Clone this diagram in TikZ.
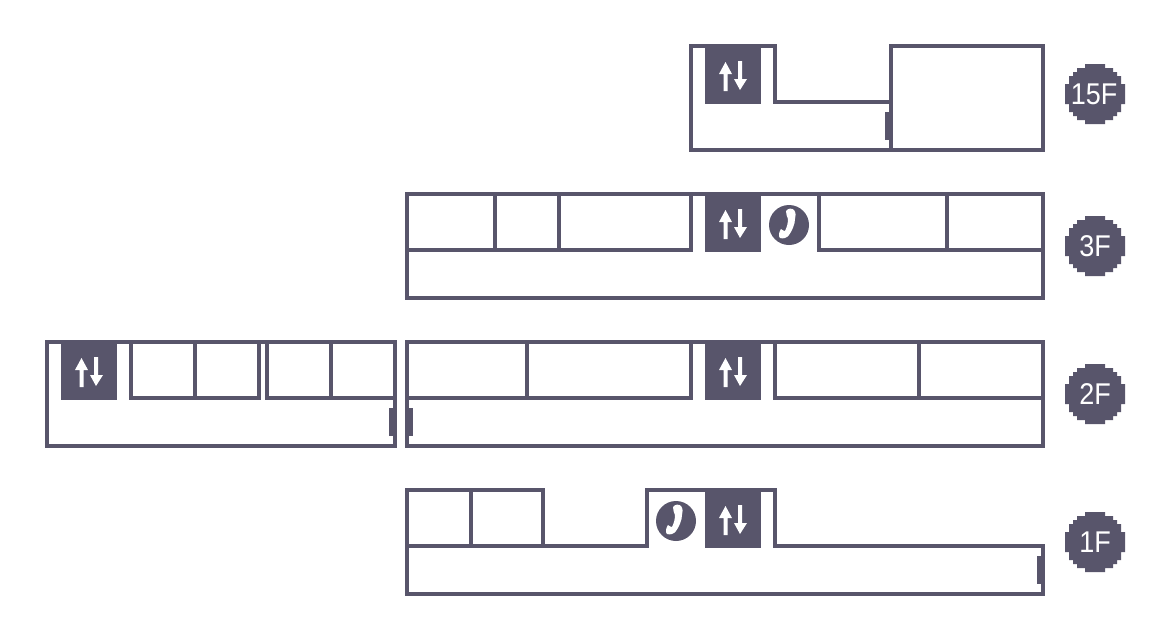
\documentclass[tikz,border=0pt]{standalone}
\usepackage{fontspec}
\setmainfont{Liberation Sans}
\newfontfamily\badgefont[FakeStretch=0.9]{Liberation Sans}
\definecolor{plan}{RGB}{88,85,107}
\tikzset{
  wall/.style={draw=plan,line width=4pt,miter limit=10,line cap=butt},
  badgetext/.style={text=white,font=\badgefont\fontsize{30}{30}\selectfont,inner sep=0pt,anchor=center},
  lift/.pic={
    \fill[plan] (0,0) rectangle (56,60);
    \fill[white] (18.5,47) -- (18.5,30) -- (14,30) -- (20.5,18) -- (27,30) -- (22.5,30) -- (22.5,47) -- cycle;
    \fill[white] (33,17) -- (37,17) -- (37,35) -- (42,35) -- (35,46) -- (29,35) -- (33,35) -- cycle;
  },
  phone/.pic={
    \fill[plan] (0,0) circle[radius=20];
    \fill[white] (-3,-14) .. controls (-1,-17) and (3,-17) .. (5,-15)
      .. controls (7,-12) and (7,-9) .. (6,-6)
      .. controls (6,-1) and (3,6) .. (0,10)
      .. controls (-2,13) and (-6,14) .. (-9,13)
      .. controls (-11,11) and (-10,7) .. (-8,4)
      .. controls (-7,5) and (-5,6) .. (-4,6)
      .. controls (-2,2) and (-1,-2) .. (-1,-6)
      .. controls (-2,-8) and (-3,-11) .. (-3,-14) -- cycle;
  },
  disc/.pic={
    \fill[plan] (-10,-30) -- (10,-30) -- (10,-26) -- (18,-26) -- (18,-22) -- (22,-22) -- (22,-18) -- (26,-18) -- (26,-10) -- (30,-10)
      -- (30,10) -- (26,10) -- (26,18) -- (22,18) -- (22,22) -- (18,22) -- (18,26) -- (10,26) -- (10,30)
      -- (-10,30) -- (-10,26) -- (-18,26) -- (-18,22) -- (-22,22) -- (-22,18) -- (-26,18) -- (-26,10) -- (-30,10)
      -- (-30,-10) -- (-26,-10) -- (-26,-18) -- (-22,-18) -- (-22,-22) -- (-18,-22) -- (-18,-26) -- (-10,-26) -- cycle;
  }
}
\begin{document}
\begin{tikzpicture}[x=1pt,y=-1pt]
\useasboundingbox (0,0) rectangle (1169,641);
\fill[white] (0,0) rectangle (1169,641);

% 15F
\draw[wall] (889,102) -- (775,102) -- (775,46) -- (691,46) -- (691,150) -- (889,150);
\draw[wall] (891,46) rectangle (1043,150);
\fill[plan] (885,112) rectangle (889,140);
\pic at (705,44) {lift};

% 3F
\draw[wall] (407,194) rectangle (1043,298);
\draw[wall] (691,194) -- (691,250) -- (407,250);
\draw[wall] (819,194) -- (819,250) -- (1043,250);
\draw[wall] (495,194) -- (495,250);
\draw[wall] (559,194) -- (559,250);
\draw[wall] (947,194) -- (947,250);
\pic at (705,192) {lift};
\pic at (789,225) {phone};

% 2F west wing
\draw[wall] (47,342) rectangle (395,446);
\draw[wall] (131,342) -- (131,398) -- (259,398) -- (259,342);
\draw[wall] (195,342) -- (195,398);
\draw[wall] (267,342) -- (267,398) -- (393,398);
\draw[wall] (331,342) -- (331,398);
\fill[plan] (389,408) rectangle (393,436);
\pic at (61,340) {lift};

% 2F east wing
\draw[wall] (407,342) rectangle (1043,446);
\draw[wall] (691,342) -- (691,398) -- (407,398);
\draw[wall] (775,342) -- (775,398) -- (1043,398);
\draw[wall] (527,342) -- (527,398);
\draw[wall] (919,342) -- (919,398);
\fill[plan] (409,408) rectangle (413,436);
\pic at (705,340) {lift};

% 1F
\draw[wall] (647,546) -- (647,490) -- (775,490) -- (775,546) -- (1043,546) -- (1043,594) -- (407,594) -- (407,490) -- (543,490) -- (543,546) -- cycle;
\draw[wall] (407,546) -- (543,546);
\draw[wall] (471,490) -- (471,546);
\fill[plan] (1037,556) rectangle (1041,584);
\pic at (705,488) {lift};
\pic at (676,521) {phone};

% floor badges
\pic at (1095,94) {disc};
\pic at (1095,246) {disc};
\pic at (1095,394) {disc};
\pic at (1095,542) {disc};
\node[badgetext] (f15) at (1094,94) {15F};
\node[badgetext] (f3) at (1095,246) {3F};
\node[badgetext] (f2) at (1095,394) {2F};
\node[badgetext] (f1) at (1095,542) {1F};
\end{tikzpicture}
\end{document}
